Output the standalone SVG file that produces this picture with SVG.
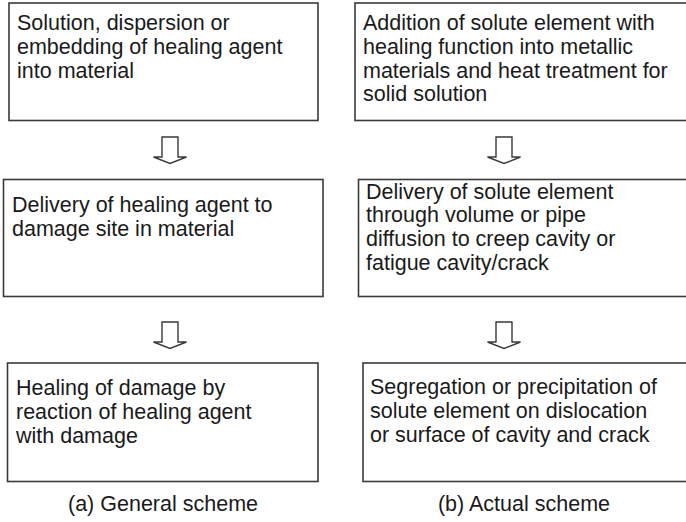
<svg xmlns="http://www.w3.org/2000/svg" width="686" height="522" viewBox="0 0 686 522">
  <style>
    .box { fill: #ffffff; stroke: #3a3a3a; stroke-width: 1.6; }
    .arrow { fill: #ffffff; stroke: #3a3a3a; stroke-width: 1.4; stroke-linejoin: miter; }
    .label { font-family: "Liberation Sans", Arial, Helvetica, sans-serif; font-size: 21.5px; fill: #1a1a1a; }
    .caption { font-family: "Liberation Sans", Arial, Helvetica, sans-serif; font-size: 21.5px; fill: #1a1a1a; text-anchor: middle; }
  </style>
  <defs>
    <!-- hollow block arrow pointing down, origin at stem top centre -->
    <path id="down" d="M -8 0 H 8 V 20 H 16.5 L 0 26.5 L -16.5 20 H -8 Z"/>
  </defs>
  <rect width="686" height="522" fill="#ffffff"/>

  <!-- (a) General scheme -->
  <g id="a1">
    <rect class="box" x="9" y="3" width="309" height="117.5"/>
    <text class="label">
      <tspan x="17" y="30">Solution, dispersion or</tspan>
      <tspan x="17" y="54">embedding of healing agent</tspan>
      <tspan x="17" y="78">into material</tspan>
    </text>
  </g>
  <g id="a2">
    <rect class="box" x="3.5" y="179.5" width="319.5" height="117"/>
    <text class="label">
      <tspan x="12" y="212">Delivery of healing agent to</tspan>
      <tspan x="12" y="236">damage site in material</tspan>
    </text>
  </g>
  <g id="a3">
    <rect class="box" x="7.5" y="363" width="310.5" height="118.5"/>
    <text class="label">
      <tspan x="16" y="395">Healing of damage by</tspan>
      <tspan x="16" y="419">reaction of healing agent</tspan>
      <tspan x="16" y="443">with damage</tspan>
    </text>
  </g>

  <!-- (b) Actual scheme -->
  <g id="b1">
    <rect class="box" x="355" y="3" width="340" height="117.5"/>
    <text class="label">
      <tspan x="363" y="30">Addition of solute element with</tspan>
      <tspan x="363" y="54">healing function into metallic</tspan>
      <tspan x="363" y="78">materials and heat treatment for</tspan>
      <tspan x="363" y="101">solid solution</tspan>
    </text>
  </g>
  <g id="b2">
    <rect class="box" x="358.5" y="179.5" width="340" height="117"/>
    <text class="label">
      <tspan x="366" y="199">Delivery of solute element</tspan>
      <tspan x="366" y="222">through volume or pipe</tspan>
      <tspan x="366" y="246">diffusion to creep cavity or</tspan>
      <tspan x="366" y="270">fatigue cavity/crack</tspan>
    </text>
  </g>
  <g id="b3">
    <rect class="box" x="363" y="363" width="340" height="118.5"/>
    <text class="label">
      <tspan x="370" y="394">Segregation or precipitation of</tspan>
      <tspan x="370" y="418">solute element on dislocation</tspan>
      <tspan x="370" y="442">or surface of cavity and crack</tspan>
    </text>
  </g>

  <!-- flow arrows between steps -->
  <g id="connectors">
    <use href="#down" class="arrow" x="170" y="137"/>
    <use href="#down" class="arrow" x="170" y="322"/>
    <use href="#down" class="arrow" x="504" y="137"/>
    <use href="#down" class="arrow" x="504" y="322"/>
  </g>

  <g id="captions">
    <text class="caption" x="163" y="511">(a) General scheme</text>
    <text class="caption" x="524" y="511">(b) Actual scheme</text>
  </g>
</svg>
